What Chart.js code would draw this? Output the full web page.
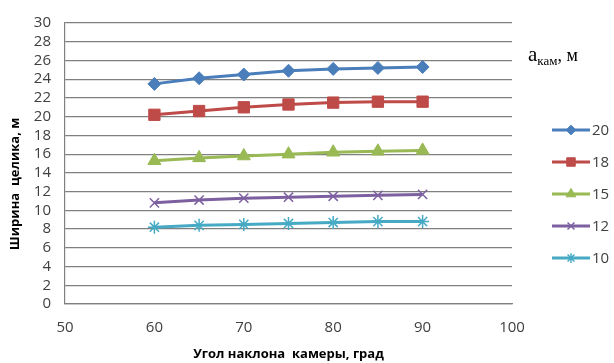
<!DOCTYPE html>
<html><head><meta charset="utf-8">
<script src="https://cdn.jsdelivr.net/npm/chart.js@4/dist/chart.umd.min.js"></script>
<style>
html,body{margin:0;padding:0;background:#fff;}
#wrap{position:relative;width:614px;height:363px;}
#lt{position:absolute;left:528px;top:42px;font-family:"Liberation Serif","Times New Roman",serif;font-size:21px;color:#000;white-space:nowrap;line-height:24px;}
#lt sub{font-size:13px;vertical-align:-4px;line-height:0;}
#lt span{font-size:18px;}
</style></head><body>
<div id="wrap"><canvas id="c" width="614" height="363"></canvas>
<div id="lt">a<sub>кам</sub><span>,&nbsp;м</span></div></div>
<script>
const angles = [60, 65, 70, 75, 80, 85, 90];
const seriesLabels = ['20', '18', '15', '12', '10'];
const w20 = [23.5, 24.1, 24.5, 24.9, 25.1, 25.2, 25.3];
const w18 = [20.2, 20.6, 21.0, 21.3, 21.5, 21.6, 21.6];
const w15 = [15.3, 15.6, 15.8, 16.0, 16.2, 16.3, 16.4];
const w12 = [10.8, 11.1, 11.3, 11.4, 11.5, 11.6, 11.7];
const w10 = [8.2, 8.4, 8.5, 8.6, 8.7, 8.8, 8.8];
const xTickValues = [50, 60, 70, 80, 90, 100];
const yTickValues = [0, 2, 4, 6, 8, 10, 12, 14, 16, 18, 20, 22, 24, 26, 28, 30];
const yTitle = 'Ширина  целика, м';
const xTitle = 'Угол наклона  камеры, град';

const seriesValues = [w20, w18, w15, w12, w10];
const colors = ['#4A7EBB', '#BE4B48', '#98B954', '#7D60A0', '#46AAC5'];
const styles = ['rectRot', 'rect', 'triangle', 'crossRot', 'star'];
const radii = [6.5, 8, 7.5, 6.5, 6.5];

const datasets = seriesValues.map((vals, i) => ({
  label: seriesLabels[i],
  data: angles.map((a, j) => ({x: a, y: vals[j]})),
  borderColor: colors[i],
  backgroundColor: colors[i],
  pointBackgroundColor: colors[i],
  pointBorderColor: colors[i],
  pointStyle: styles[i],
  pointRadius: radii[i],
  pointBorderWidth: (styles[i] === 'crossRot' || styles[i] === 'star') ? 1.5 : 1,
  borderWidth: 3,
  tension: 0,
  fill: false
}));

const extras = {
  id: 'extras',
  afterDraw(chart) {
    const ctx = chart.ctx;
    ctx.save();
    ctx.translate(15, 184);
    ctx.rotate(-Math.PI / 2);
    ctx.font = 'bold 13px "Open Sans"';
    ctx.fillStyle = '#000';
    ctx.textAlign = 'center';
    ctx.textBaseline = 'middle';
    ctx.fillText(yTitle, 0, 0);
    ctx.restore();
    ctx.save();
    const top = 130, step = 32;
    chart.data.datasets.forEach((ds, i) => {
      const y = top + i * step;
      ctx.strokeStyle = ds.borderColor;
      ctx.lineWidth = 3;
      ctx.beginPath();
      ctx.moveTo(552, y);
      ctx.lineTo(590, y);
      ctx.stroke();
      ctx.fillStyle = ds.pointBackgroundColor;
      ctx.strokeStyle = ds.pointBorderColor;
      ctx.lineWidth = ds.pointBorderWidth;
      Chart.helpers.drawPoint(ctx, {pointStyle: ds.pointStyle, radius: ds.pointRadius * 0.75, borderWidth: ds.pointBorderWidth, rotation: 0}, 571, y);
      ctx.fillStyle = '#404040';
      ctx.font = '15px "Open Sans"';
      ctx.textAlign = 'left';
      ctx.textBaseline = 'middle';
      ctx.fillText(ds.label, 592, y + 1);
    });
    ctx.restore();
  }
};

new Chart(document.getElementById('c'), {
  type: 'line',
  data: {datasets},
  options: {
    responsive: false,
    devicePixelRatio: 1,
    animation: false,
    layout: {padding: {top: 20, right: 102, left: 0, bottom: 0}},
    plugins: {legend: {display: false}, tooltip: {enabled: false}},
    scales: {
      x: {
        type: 'linear',
        min: 50, max: 100,
        afterBuildTicks(scale) { scale.ticks = xTickValues.map(v => ({value: v})); },
        afterFit(scale) { scale.height = 59; },
        grid: {display: false, drawTicks: false},
        border: {display: true, color: '#808080', width: 1.2},
        ticks: {autoSkip: false, padding: 15, color: '#404040', font: {family: 'Open Sans', size: 15}, maxRotation: 0},
        title: {display: true, text: xTitle, color: '#000', font: {family: 'Open Sans', size: 13, weight: 'bold'}, padding: {top: 0, bottom: 1}}
      },
      y: {
        type: 'linear',
        min: 0, max: 30,
        afterBuildTicks(scale) { scale.ticks = yTickValues.map(v => ({value: v})); },
        afterFit(scale) { scale.width = 65; },
        grid: {color: '#808080', lineWidth: 1.2, drawTicks: false},
        border: {display: true, color: '#808080', width: 1.2},
        ticks: {autoSkip: false, padding: 14, color: '#404040', font: {family: 'Open Sans', size: 15}}
      }
    }
  },
  plugins: [extras]
});
</script>
</body></html>
